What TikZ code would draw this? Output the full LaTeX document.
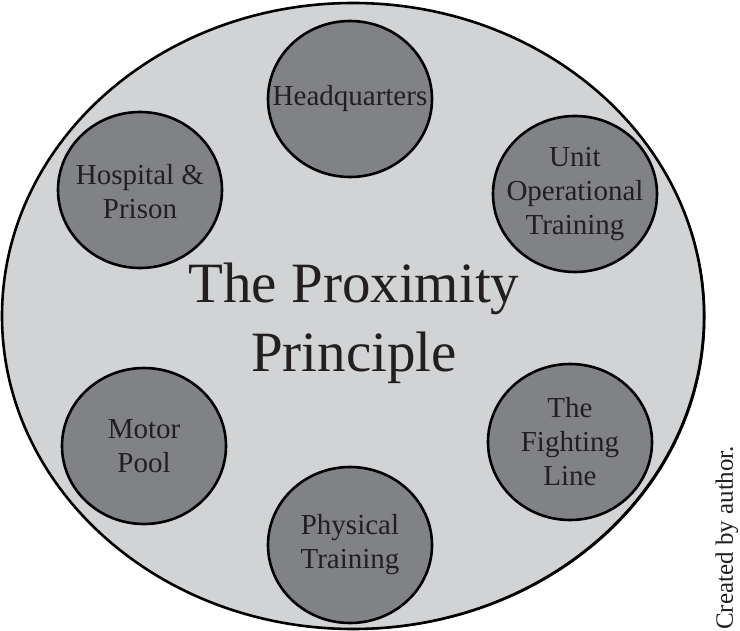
\documentclass[tikz,border=0pt]{standalone}
\usepackage{fontspec}
\setmainfont{Liberation Serif}
\usetikzlibrary{backgrounds}
\definecolor{platecolor}{HTML}{D1D3D4}
\definecolor{disccolor}{HTML}{808285}
\definecolor{inkcolor}{HTML}{231F20}
\newcommand{\platecol}{platecolor}
\newcommand{\disccol}{disccolor}
\newcommand{\rim}{2.6pt}
\newcommand{\discx}{82pt}
\newcommand{\discy}{78pt}

\begin{document}
\begin{tikzpicture}[x=1pt,y=-1pt]
\tikzset{disctext/.style={align=center,text=inkcolor,inner sep=0pt,
  font=\fontsize{29}{34}\selectfont}}
\useasboundingbox (0,0) rectangle (740,631);
\node[disctext, font=\fontsize{57}{69}\selectfont] (title) at (354,323) {The Proximity\\Principle};
\node[disctext] (hq) at (350,99) {Headquarters};
\node[disctext] (hosp) at (140,192) {Hospital \&\\Prison};
\node[disctext] (unit) at (575,194) {Unit\\Operational\\Training};
\node[disctext] (motor) at (144,446) {Motor\\Pool};
\node[disctext] (fight) at (570,442) {The\\Fighting\\Line};
\node[disctext] (phys) at (350,545) {Physical\\Training};
\node[text=inkcolor, inner sep=0pt, rotate=90, anchor=west,
  font=\fontsize{25}{30}\selectfont] (credit) at (727,630) {Created by author.};
%plate
\begin{scope}[on background layer]
\fill[black] (354.5,317) ellipse [x radius=351pt, y radius=313pt];
\filldraw[fill=\platecol, draw=black, line width=\rim] (353,316) ellipse [x radius=351pt, y radius=313pt];
\end{scope}
%discs
\begin{scope}[on background layer]
\filldraw[fill=\disccol, draw=black, line width=\rim] (hq) ellipse [x radius=\discx, y radius=\discy];
\filldraw[fill=\disccol, draw=black, line width=\rim] (140,190) ellipse [x radius=\discx, y radius=\discy];
\filldraw[fill=\disccol, draw=black, line width=\rim] (unit) ellipse [x radius=\discx, y radius=\discy];
\filldraw[fill=\disccol, draw=black, line width=\rim] (motor) ellipse [x radius=\discx, y radius=\discy];
\filldraw[fill=\disccol, draw=black, line width=\rim] (fight) ellipse [x radius=\discx, y radius=\discy];
\filldraw[fill=\disccol, draw=black, line width=\rim] (phys) ellipse [x radius=\discx, y radius=\discy];
\end{scope}
\end{tikzpicture}
\end{document}
